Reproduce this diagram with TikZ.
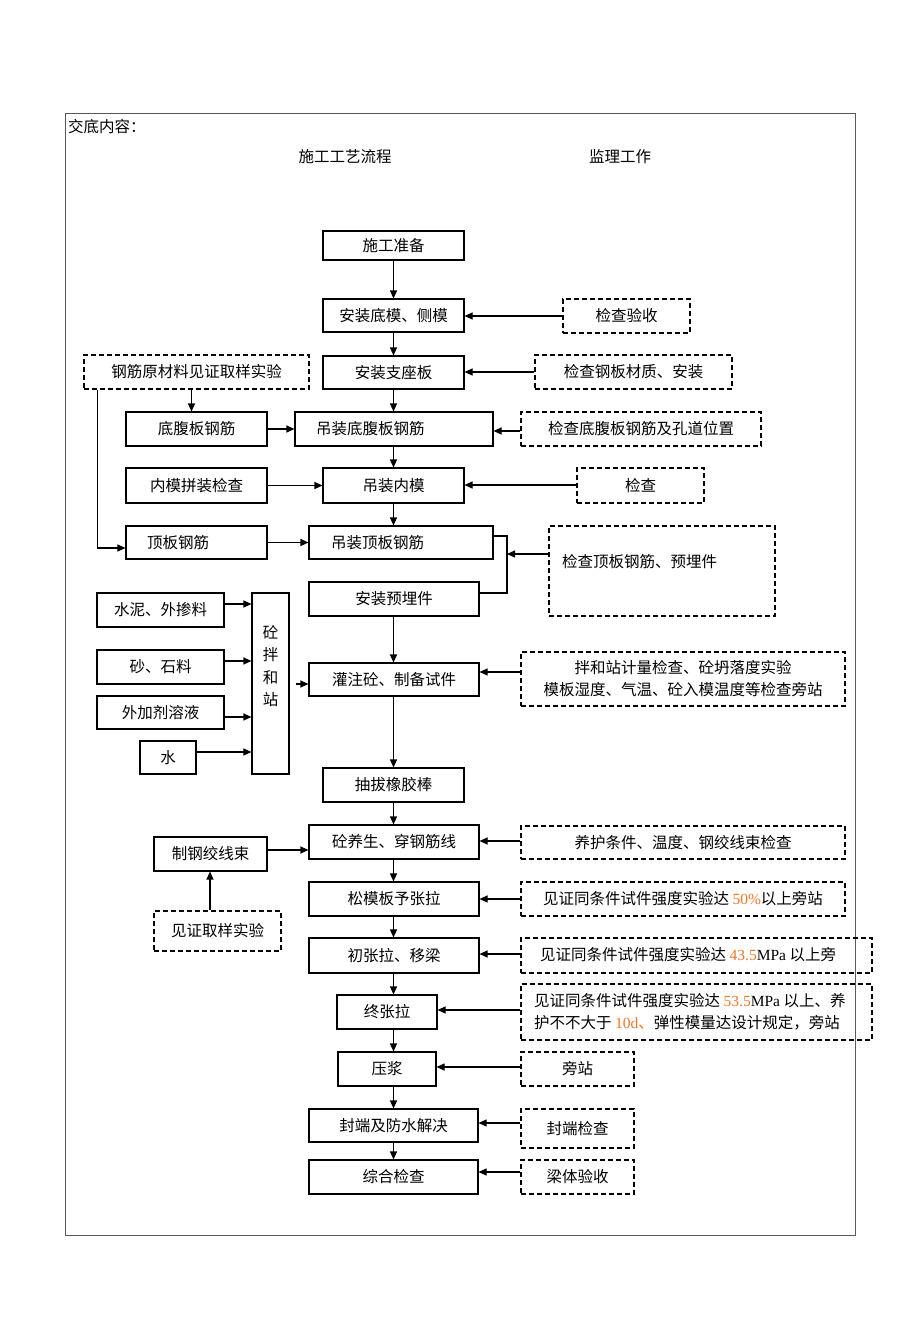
\documentclass[tikz,border=0pt]{standalone}
\usepackage{fontspec}
\setmainfont{Noto Sans CJK SC}
\newfontfamily\lat{Liberation Serif}
\usetikzlibrary{arrows.meta}
\definecolor{orng}{RGB}{240,118,40}
\newcommand\bx[7]{\node[#6, minimum width={(#4-#2)*1pt}, minimum height={(#5-#3)*1pt}] (#1) at ({(#2+#4)/2},{(#3+#5)/2}) {#7};}
\newcommand\org[1]{\textcolor{orng}{#1}}
\begin{document}
\begin{tikzpicture}[x=1pt,y=-1pt,
  fnt/.style={font=\fontsize{15.5}{22}\selectfont},
  box/.style={draw, line width=1.1pt, inner sep=0pt, fnt, align=center},
  dbox/.style={box, dash pattern=on 5pt off 3pt},
  arr/.style={line width=1.1pt, -{Triangle[length=8pt,width=7pt]}},
  ln/.style={line width=1.1pt},
  txt/.style={inner sep=0pt, fnt, align=left}]
\useasboundingbox (0,0) rectangle (920,1320);
% frame
\draw[line width=0.9pt, black!65] (65,113) rectangle (855,1235);
\node[txt, anchor=west] (hd) at (68,127) {交底内容：};
\node[txt] (h1) at (345,157) {施工工艺流程};
\node[txt] (h2) at (620,157) {监理工作};
% main column
\bx{sg}{323}{231}{464}{260}{box}{施工准备}
\bx{dm}{323}{299}{464}{332}{box}{安装底模、侧模}
\bx{zz}{323}{356}{464}{389}{box}{安装支座板}
\bx{df}{295}{412}{493}{446}{box}{}
\node[txt, anchor=west] (dft) at (316,429) {吊装底腹板钢筋};
\bx{nm}{323}{468}{464}{503}{box}{吊装内模}
\bx{db}{309}{526}{493}{559}{box}{}
\node[txt, anchor=west] (dbt) at (331,542.5) {吊装顶板钢筋};
\bx{yq}{309}{582}{479}{616}{box}{安装预埋件}
\bx{gz}{309}{663}{479}{696}{box}{灌注砼、制备试件}
\bx{cb}{323}{768}{464}{802}{box}{抽拔橡胶棒}
\bx{yh}{309}{825}{479}{859}{box}{砼养生、穿钢筋线}
\bx{sm}{309}{882}{479}{916}{box}{松模板予张拉}
\bx{cl}{309}{938}{479}{973}{box}{初张拉、移梁}
\bx{zl}{337}{995}{437}{1029}{box}{终张拉}
\bx{yj}{338}{1052}{436}{1086}{box}{压浆}
\bx{fd}{309}{1109}{478}{1142}{box}{封端及防水解决}
\bx{zh}{309}{1160}{478}{1194}{box}{综合检查}
% left column
\bx{yc}{84}{355}{309}{389}{dbox}{钢筋原材料见证取样实验}
\bx{dfg}{126}{412}{267}{446}{box}{底腹板钢筋}
\bx{nmj}{126}{468}{267}{503}{box}{内模拼装检查}
\bx{dbg}{126}{526}{267}{559}{box}{}
\node[txt, anchor=west] (dbgt) at (147,542.5) {顶板钢筋};
\bx{sn}{97}{593}{224}{627}{box}{水泥、外掺料}
\bx{ss}{97}{650}{224}{684}{box}{砂、石料}
\bx{wj}{97}{696}{224}{729}{box}{外加剂溶液}
\bx{sw}{140}{741}{196}{774}{box}{水}
\bx{bh}{252}{593}{289}{774}{box}{}
\node[txt, align=center, font=\fontsize{15.5}{22.5}\selectfont] (bht) at (270.5,666) {砼\\拌\\和\\站};
\bx{zg}{154}{837}{267}{871}{box}{制钢绞线束}
\bx{jz}{154}{911}{281}{951}{dbox}{见证取样实验}
% right column
\bx{r1}{563}{299}{690}{333}{dbox}{检查验收}
\bx{r2}{535}{355}{732}{389}{dbox}{检查钢板材质、安装}
\bx{r3}{521}{412}{761}{446}{dbox}{检查底腹板钢筋及孔道位置}
\bx{r4}{577}{468}{704}{503}{dbox}{检查}
\bx{r5}{549}{526}{775}{616}{dbox}{}
\node[txt, anchor=west] (r5t) at (562,562) {检查顶板钢筋、预埋件};
\bx{r6}{521}{652}{845}{706}{dbox}{拌和站计量检查、砼坍落度实验\\模板湿度、气温、砼入模温度等检查旁站}
\bx{r7}{521}{826}{845}{859}{dbox}{养护条件、温度、钢绞线束检查}
\bx{r8}{521}{882}{845}{916}{dbox}{见证同条件试件强度实验达 {\lat\org{50\%}}以上旁站}
\bx{r9}{521}{938}{872}{973}{dbox}{}
\node[txt, anchor=west] (r9t) at (540,955) {见证同条件试件强度实验达 {\lat\org{43.5}MPa} 以上旁};
\bx{r10}{521}{984}{872}{1040}{dbox}{}
\node[txt, anchor=west] (r10t) at (534,1012) {见证同条件试件强度实验达 {\lat\org{53.5}MPa} 以上、养\\护不不大于 {\lat\org{10d}}\org{、}弹性模量达设计规定，旁站};
\bx{r11}{521}{1052}{634}{1086}{dbox}{旁站}
\bx{r12}{521}{1109}{634}{1148}{dbox}{封端检查}
\bx{r13}{521}{1160}{634}{1194}{dbox}{梁体验收}
% main vertical arrows
\draw[arr] (sg.south) -- (dm.north);
\draw[arr] (dm.south) -- (zz.north);
\draw[arr] (zz.south) -- (zz.south |- df.north);
\draw[arr] (zz.south |- df.south) -- (nm.north);
\draw[arr] (nm.south) -- (nm.south |- db.north);
\draw[arr] (nm.south |- yq.south) -- (nm.south |- gz.north);
\draw[arr] (nm.south |- gz.south) -- (cb.north);
\draw[arr] (cb.south) -- (cb.south |- yh.north);
\draw[arr] (cb.south |- yh.south) -- (cb.south |- sm.north);
\draw[arr] (cb.south |- sm.south) -- (cb.south |- cl.north);
\draw[arr] (cb.south |- cl.south) -- (cb.south |- zl.north);
\draw[arr] (cb.south |- zl.south) -- (cb.south |- yj.north);
\draw[arr] (cb.south |- yj.south) -- (cb.south |- fd.north);
\draw[arr] (cb.south |- fd.south) -- (cb.south |- zh.north);
% left arrows
\coordinate (ycd) at ([xshift=-5pt]yc.south -| dfg.north);
\draw[arr] (ycd) -- (ycd |- dfg.north);
\draw[arr] (dfg.east) -- (df.west);
\draw[arr] (nmj.east) -- (nm.west);
\draw[arr] (dbg.east) -- (db.west);
\coordinate (ycl) at ([xshift=14pt]yc.south west);
\draw[arr] (ycl) |- ([yshift=-5.5pt]dbg.west);
\draw[arr] (sn.east |- 0,604) -- (bh.west |- 0,604);
\draw[arr] (ss.east |- 0,661) -- (bh.west |- 0,661);
\draw[arr] (wj.east |- 0,717) -- (bh.west |- 0,717);
\draw[arr] (sw.east |- 0,752) -- (bh.west |- 0,752);
\coordinate (bho) at ([xshift=6pt]bh.east |- 0,684);
\draw[arr] (bho) -- (gz.west |- bho);
\draw[arr] (zg.east |- 0,850) -- (yh.west |- 0,850);
\draw[arr] (jz.north -| 210,0) -- (zg.south -| 210,0);
% right arrows
\draw[arr] (r1.west |- 0,316) -- (dm.east |- 0,316);
\draw[arr] (r2.west |- 0,372) -- (zz.east |- 0,372);
\draw[arr] (r3.west |- 0,431) -- (df.east |- 0,431);
\draw[arr] (r4.west |- 0,485) -- (nm.east |- 0,485);
\coordinate (brk) at (507,554);
\draw[ln] (db.east |- 0,536) -| (brk |- 0,593) -- (yq.east |- 0,593);
\draw[arr] (r5.west |- brk) -- (brk);
\draw[arr] (r6.west |- 0,672) -- (gz.east |- 0,672);
\draw[arr] (r7.west |- 0,841) -- (yh.east |- 0,841);
\draw[arr] (r8.west |- 0,899) -- (sm.east |- 0,899);
\draw[arr] (r9.west |- 0,954) -- (cl.east |- 0,954);
\draw[arr] (r10.west |- 0,1010) -- (zl.east |- 0,1010);
\draw[arr] (r11.west |- 0,1067) -- (yj.east |- 0,1067);
\draw[arr] (r12.west |- 0,1123) -- (fd.east |- 0,1123);
\draw[arr] (r13.west |- 0,1172) -- (zh.east |- 0,1172);
\end{tikzpicture}
\end{document}
